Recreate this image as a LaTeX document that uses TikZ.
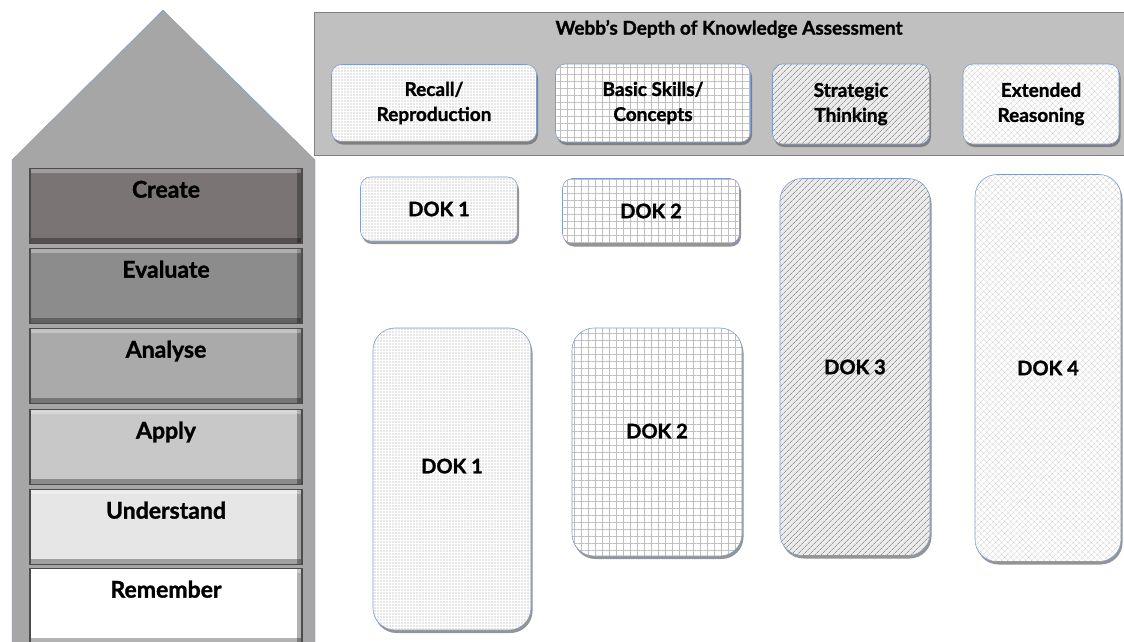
\documentclass[tikz,border=0pt]{standalone}
\usepackage{fontspec}
\setmainfont{Lato}[BoldFeatures={FakeBold=1.3}]
\usetikzlibrary{patterns.meta,shadows}
\definecolor{dokrim}{HTML}{7F9CC9}
\definecolor{housegray}{HTML}{A6A6A6}
\definecolor{panelgray}{HTML}{C0C0C0}
\definecolor{lvlcreate}{HTML}{7A7474}
\definecolor{lvlevaluate}{HTML}{8C8C8C}
\definecolor{lvlanalyse}{HTML}{AAAAAA}
\definecolor{lvlapply}{HTML}{C8C8C8}
\definecolor{lvlunderstand}{HTML}{E6E6E6}
\definecolor{lvlremember}{HTML}{FFFFFF}
\tikzset{
  lvl/.style={draw=black!70,line width=1.2pt,anchor=north,inner sep=0pt,minimum width=272pt,
    text height=29pt,text depth=46pt,font=\bfseries\fontsize{23}{27}\selectfont,
    path picture={
      \fill[black,opacity=.3] (path picture bounding box.south west) rectangle ([yshift=6pt]path picture bounding box.south east);
      \fill[black,opacity=.3] ([xshift=-5pt]path picture bounding box.south east) rectangle (path picture bounding box.north east);
      \fill[white,opacity=.3] (path picture bounding box.north west) rectangle ([yshift=-4pt]path picture bounding box.north east);
    }},
  dokbox/.style={rounded corners=10pt,draw=dokrim,semithick,align=center,inner sep=2pt,
    font=\bfseries\fontsize{20}{24}\selectfont,
    drop shadow={shadow xshift=1.5pt,shadow yshift=-3pt,fill=black!60,opacity=.7}},
  headbox/.style={dokbox,font=\bfseries\fontsize{19}{25}\selectfont},
  tallbox/.style={dokbox,rounded corners=22pt},
  recallfill/.style={preaction={fill=white},pattern={Dots[distance=3pt,radius=.6pt]},pattern color=black!40},
  skillfill/.style={preaction={fill=white},pattern={Hatch[angle=0,distance=7pt,line width=.5pt]},pattern color=black!25},
  strategicfill/.style={preaction={fill=black!8},pattern={Lines[angle=45,distance=4pt,line width=.8pt]},pattern color=black!40},
  extendedfill/.style={preaction={fill=white},pattern={Hatch[angle=45,distance=4pt,line width=.4pt]},pattern color=black!18},
}
\begin{document}
\begin{tikzpicture}[x=1pt,y=-1pt]
  \useasboundingbox (0,0) rectangle (1124,641);
  % Bloom's house
  \draw[draw=dokrim,fill=housegray] (12,650) -- (12,160) -- (163,10) -- (315,160) -- (315,650) -- cycle;
  \node[lvl,fill=lvlcreate] (create) at (166,168) {Create};
  \node[lvl,fill=lvlevaluate] (evaluate) at (166,248) {Evaluate};
  \node[lvl,fill=lvlanalyse] (analyse) at (166,328) {Analyse};
  \node[lvl,fill=lvlapply] (apply) at (166,409) {Apply};
  \node[lvl,fill=lvlunderstand] (understand) at (166,489) {Understand};
  \node[lvl,fill=lvlremember] (remember) at (166,568) {Remember};
  % Webb's panel
  \node[draw=black!50,fill=panelgray,anchor=north west,minimum width=815pt,minimum height=143pt] (panel) at (314,12) {};
  \node[font=\bfseries\fontsize{19}{22}\selectfont] (title) at (729,29) {Webb's Depth of Knowledge Assessment};
  \node[headbox,recallfill,minimum width=205pt,minimum height=77pt] (recall) at (434,103) {Recall/\\Reproduction};
  \node[headbox,skillfill,minimum width=195pt,minimum height=78pt] (skills) at (653,103) {Basic Skills/\\Concepts};
  \node[headbox,strategicfill,minimum width=157pt,minimum height=80pt] (strategic) at (851,104) {Strategic\\Thinking};
  \node[headbox,extendedfill,minimum width=156pt,minimum height=80pt] (extended) at (1041,104) {Extended\\Reasoning};
  % DOK levels
  \node[dokbox,recallfill,minimum width=157pt,minimum height=64pt] (dokA) at (439,209) {DOK 1};
  \node[dokbox,skillfill,minimum width=177pt,minimum height=65pt] (dokB) at (651,211) {DOK 2};
  \node[tallbox,recallfill,minimum width=158pt,minimum height=302pt,text depth=26pt] (dokAtall) at (452,479) {DOK 1};
  \node[tallbox,skillfill,minimum width=170pt,minimum height=228pt,text depth=22pt] (dokBtall) at (657,442) {DOK 2};
  \node[tallbox,strategicfill,minimum width=150pt,minimum height=377pt] (dokC) at (855,367) {DOK 3};
  \node[tallbox,extendedfill,minimum width=146pt,minimum height=387pt] (dokD) at (1048,368) {DOK 4};
\end{tikzpicture}
\end{document}
